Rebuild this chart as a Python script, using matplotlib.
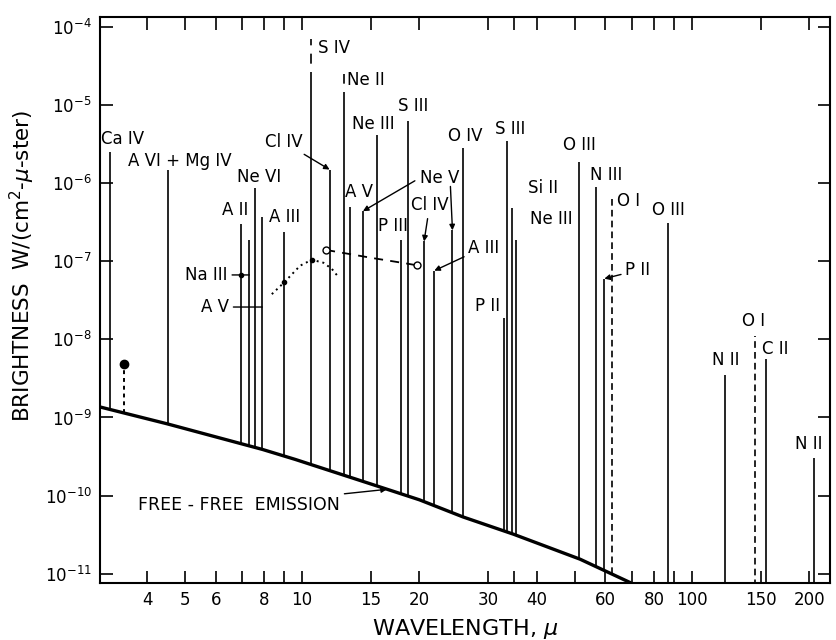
import matplotlib
matplotlib.use('Agg')
import matplotlib.pyplot as plt
import numpy as np

# free-free continuum (wavelength in micron, brightness)
ff_wl = [3.0, 4.5, 7.9, 9.6, 16.8, 20.0, 25.9, 34.8, 51.6, 69.3, 80.0]
ff_b = [1.38e-9, 8.3e-10, 3.9e-10, 2.9e-10, 1.17e-10, 8.8e-11, 5.3e-11,
        3.2e-11, 1.53e-11, 7.7e-12, 5.0e-12]

# emission lines
line_wl = [3.21, 4.52, 6.98, 7.32, 7.58, 7.90, 8.99, 10.51, 11.76, 12.81,
           13.27, 14.32, 15.55, 17.89, 18.71, 20.55, 21.83, 24.3, 25.89,
           32.87, 33.48, 34.5, 35.3, 51.4, 56.9, 59.6, 62.2, 86.6,
           121.5, 145.3, 155.3, 206.0]
line_peak = [2.5e-6, 1.5e-6, 3.0e-7, 1.9e-7, 8.7e-7, 3.7e-7, 2.4e-7, 1.96e-5,
             1.5e-6, 1.1e-5, 5.0e-7, 4.4e-7, 4.2e-6, 1.9e-7, 6.2e-6, 1.8e-7,
             7.6e-8, 2.5e-7, 2.8e-6, 1.9e-8, 3.5e-6, 4.8e-7, 1.9e-7, 1.9e-6,
             8.9e-7, 6.0e-8, 6.6e-7, 3.1e-7, 3.5e-9, 1.1e-8, 5.6e-9, 3.0e-10]
line_dashed = [False] * len(line_wl)
line_dashed[26] = True   # O I 63
line_dashed[29] = True   # O I 145

# uncertain upper parts of S IV and Ne II
upper_wl = [10.51, 12.81]
upper_lo = [1.96e-5, 1.1e-5]
upper_hi = [7.0e-5, 2.5e-5]

# dotted and dashed secondary curves
dot_wl = [8.36, 9.0, 9.88, 10.59, 11.34, 11.92, 12.39]
dot_b = [3.8e-8, 5.4e-8, 8.8e-8, 1.05e-7, 9.6e-8, 8.0e-8, 6.3e-8]
dash_wl = [11.52, 15.2, 18.5, 19.7]
dash_b = [1.4e-7, 1.1e-7, 9.4e-8, 8.9e-8]

# single measured point near 3.5 micron
pt_wl = 3.5
pt_b = 4.8e-9

# simple labels: text, x, y
labels = [
    ('Ca IV', 3.05, 3.7e-6), ('A VI + Mg IV', 3.58, 1.95e-6),
    ('Ne VI', 6.81, 1.22e-6), ('A II', 6.24, 4.6e-7), ('A III', 8.23, 3.7e-7),
    ('S IV', 10.99, 5.4e-5), ('Ne II', 13.04, 2.1e-5), ('Ne III', 13.44, 5.8e-6),
    ('S III', 17.63, 9.7e-6), ('A V', 12.89, 7.8e-7), ('P III', 15.66, 2.8e-7),
    ('O IV', 23.7, 4.0e-6), ('S III', 31.2, 5.0e-6), ('P II', 27.7, 2.7e-8),
    ('Si II', 37.9, 8.6e-7), ('Ne III', 38.4, 3.5e-7), ('O III', 46.7, 3.1e-6),
    ('N III', 54.9, 1.28e-6), ('O I', 64.3, 5.9e-7), ('O III', 78.8, 4.6e-7),
    ('N II', 112.4, 5.4e-9), ('O I', 134.7, 1.7e-8), ('C II', 151.7, 7.6e-9),
    ('N II', 184.2, 4.6e-10),
]

fig = plt.figure(figsize=(8.37, 6.4), dpi=100)
ax = fig.add_axes([0.1195, 0.0898, 0.8721, 0.8829])
ax.set_xscale('log')
ax.set_yscale('log')

wl = np.array(line_wl)
base = 10 ** np.interp(np.log10(wl), np.log10(ff_wl), np.log10(ff_b))
for w, b, p, d in zip(wl, base, line_peak, line_dashed):
    ax.vlines(w, b, p, colors='k', lw=1.2, linestyles=(0, (4, 2.5)) if d else '-')
ax.vlines(upper_wl, upper_lo, upper_hi, colors='k', lw=1.2, linestyles=(0, (6, 5)))

ax.plot(ff_wl, ff_b, color='k', lw=2.4)

ax.plot(dot_wl, dot_b, color='k', lw=1.4, ls=(0, (1, 2)))
ax.plot([dot_wl[1], dot_wl[3]], [dot_b[1], dot_b[3]], 'ko', ms=3)
ax.plot(dash_wl, dash_b, color='k', lw=1.3, ls=(0, (5, 4)))
ax.plot([dash_wl[0], dash_wl[-1]], [dash_b[0], dash_b[-1]], 'o', mfc='white',
        mec='k', ms=5)

pt_base = 10 ** np.interp(np.log10(pt_wl), np.log10(ff_wl), np.log10(ff_b))
ax.vlines(pt_wl, pt_base, pt_b, colors='k', lw=1.4, linestyles=(0, (2, 2)))
ax.plot(pt_wl, pt_b, 'ko', ms=6)

fs = 12
for s, x, y in labels:
    ax.text(x, y, s, fontsize=fs, ha='left', va='center')

arr = dict(arrowstyle='-', color='k', lw=1.0, shrinkA=1, shrinkB=0)
head = dict(arrowstyle='-|>', color='k', lw=1.0, mutation_scale=8, shrinkA=1, shrinkB=0)
ax.annotate('Na III', xy=(7.32, 6.7e-8), xytext=(6.45, 6.7e-8), fontsize=fs,
            ha='right', va='center', arrowprops=arr)
ax.plot(6.98, 6.7e-8, 'ko', ms=3)
ax.annotate('A V', xy=(7.9, 2.6e-8), xytext=(6.5, 2.6e-8), fontsize=fs,
            ha='right', va='center', arrowprops=arr)
ax.annotate('Cl IV', xy=(11.76, 1.5e-6), xytext=(10.0, 3.4e-6), fontsize=fs,
            ha='right', va='center', arrowprops=head)
ax.text(20.07, 1.16e-6, 'Ne V', fontsize=fs, ha='left', va='center')
ax.annotate('', xy=(14.32, 4.4e-7), xytext=(19.6, 1.1e-6), arrowprops=head)
ax.annotate('', xy=(24.3, 2.5e-7), xytext=(24.0, 9.5e-7), arrowprops=head)
ax.annotate('Cl IV', xy=(20.55, 1.8e-7), xytext=(19.0, 5.2e-7), fontsize=fs,
            ha='left', va='center', arrowprops=head)
ax.annotate('A III', xy=(21.83, 7.6e-8), xytext=(26.66, 1.5e-7), fontsize=fs,
            ha='left', va='center', arrowprops=head)
ax.annotate('P II', xy=(59.6, 6.0e-8), xytext=(67.4, 7.7e-8), fontsize=fs,
            ha='left', va='center', arrowprops=head)
ax.annotate('FREE - FREE  EMISSION', xy=(16.5, 1.2e-10), xytext=(3.8, 7.6e-11),
            fontsize=12.5, ha='left', va='center', arrowprops=head)

ax.set_xlim(3.03, 226)
ax.set_ylim(10 ** -11.115, 10 ** -3.875)

xt = [4, 5, 6, 7, 8, 9, 10, 15, 20, 30, 35, 40, 50, 60, 70, 80, 90, 100, 150, 200]
xshown = [4, 5, 6, 8, 10, 15, 20, 30, 40, 60, 80, 100, 150, 200]
ax.set_xticks(xt)
ax.set_xticklabels([str(t) if t in xshown else '' for t in xt])
ax.xaxis.set_minor_locator(matplotlib.ticker.NullLocator())
yexp = [-4, -5, -6, -7, -8, -9, -10, -11]
ax.set_yticks([10.0 ** e for e in yexp])
ax.set_yticklabels(['$10^{%d}$' % e for e in yexp])
ax.yaxis.set_minor_locator(matplotlib.ticker.NullLocator())
ax.tick_params(which='both', direction='in', top=True, right=True, length=9,
               width=1.2, labelsize=12, pad=6)
for sp in ax.spines.values():
    sp.set_linewidth(1.5)

ax.set_xlabel('WAVELENGTH, $\\mu$', fontsize=16, labelpad=6)
ax.set_ylabel('BRIGHTNESS  W/(cm$^2$-$\\mu$-ster)', fontsize=15.5)
ax.yaxis.set_label_coords(-0.086, 0.56)

fig.savefig('out.png', dpi=100)
